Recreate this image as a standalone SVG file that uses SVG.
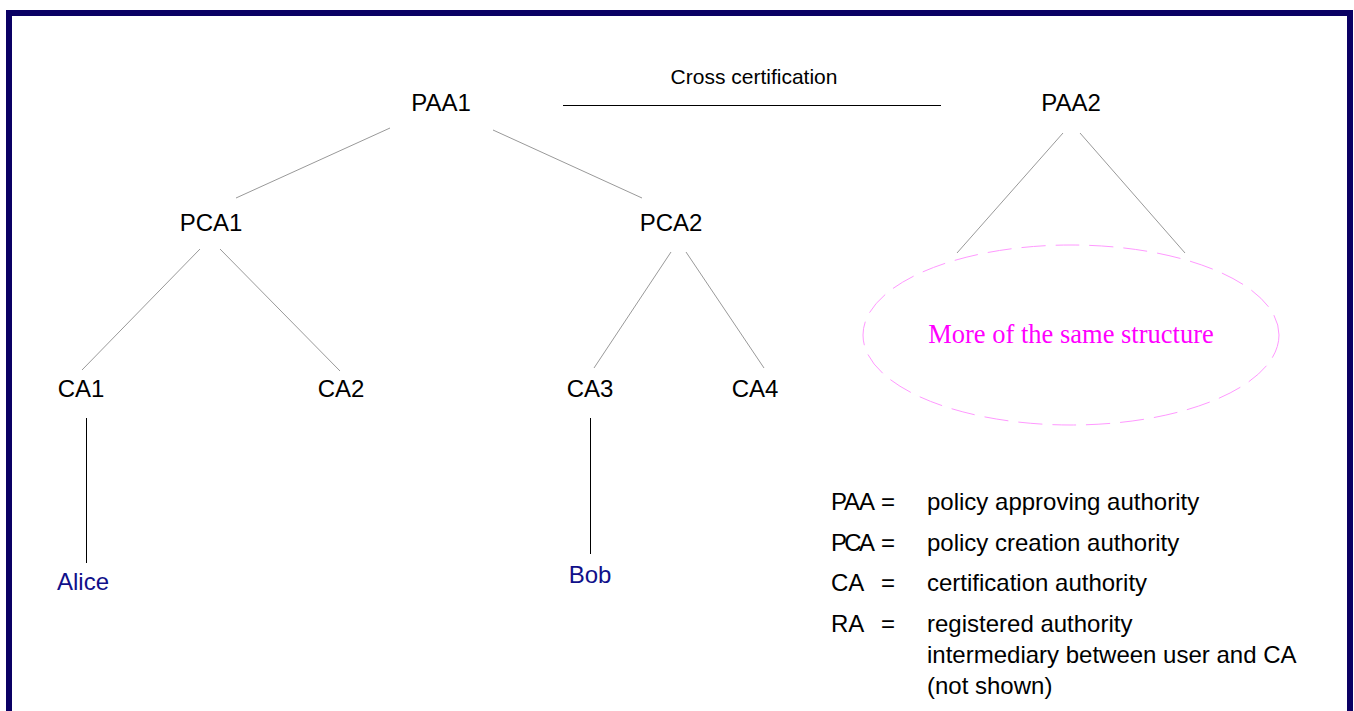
<svg xmlns="http://www.w3.org/2000/svg" width="1354" height="711" viewBox="0 0 1354 711">
<style>
.n{font-family:"Liberation Sans",Arial,sans-serif;font-size:24px;fill:#000}
.u{font-family:"Liberation Sans",Arial,sans-serif;font-size:24px;fill:#10108a}
.l{font-family:"Liberation Sans",Arial,sans-serif;font-size:24px;fill:#000}
.e{stroke:#999;stroke-width:1;fill:none}
.k{stroke:#000;stroke-width:1;fill:none}
</style>
<rect x="0" y="0" width="1354" height="711" fill="#fff"/>
<rect x="9" y="13" width="1341" height="720" fill="none" stroke="#0a0064" stroke-width="6"/>
<g id="connectors">
<line class="k" x1="563" y1="105.5" x2="941" y2="105.5"/>
<line class="e" x1="390" y1="128" x2="236" y2="198"/>
<line class="e" x1="493" y1="130" x2="642" y2="198"/>
<line class="e" x1="200" y1="249" x2="82" y2="370"/>
<line class="e" x1="220" y1="249" x2="340" y2="371"/>
<line class="e" x1="671" y1="252" x2="594" y2="368"/>
<line class="e" x1="686" y1="252" x2="764" y2="368"/>
<line class="e" x1="1063" y1="133" x2="957" y2="253"/>
<line class="e" x1="1080" y1="133" x2="1185" y2="253"/>
<line class="k" x1="86.5" y1="418" x2="86.5" y2="563"/>
<line class="k" x1="590.5" y1="418" x2="590.5" y2="554"/>
</g>
<text x="754" y="84" text-anchor="middle" font-family="Liberation Sans, Arial, sans-serif" font-size="21">Cross certification</text>
<g id="PAA1"><text class="n" x="441" y="111" text-anchor="middle">PAA1</text></g>
<g id="PAA2"><text class="n" x="1071" y="111" text-anchor="middle">PAA2</text></g>
<g id="PCA1"><text class="n" x="211" y="231" text-anchor="middle">PCA1</text></g>
<g id="PCA2"><text class="n" x="671" y="231" text-anchor="middle">PCA2</text></g>
<g id="CA1"><text class="n" x="81" y="397" text-anchor="middle">CA1</text></g>
<g id="CA2"><text class="n" x="341" y="397" text-anchor="middle">CA2</text></g>
<g id="CA3"><text class="n" x="590" y="397" text-anchor="middle">CA3</text></g>
<g id="CA4"><text class="n" x="755" y="397" text-anchor="middle">CA4</text></g>
<g id="Alice"><text class="u" x="83" y="590" text-anchor="middle">Alice</text></g>
<g id="Bob"><text class="u" x="590" y="583" text-anchor="middle">Bob</text></g>
<g id="more">
<ellipse cx="1071" cy="335" rx="208" ry="90" fill="none" stroke="#ff99ff" stroke-width="1" stroke-dasharray="24 10"/>
<text x="1071" y="343" text-anchor="middle" font-family="Liberation Serif, Times New Roman, serif" font-size="26.5" fill="#ff00ff">More of the same structure</text>
</g>
<g id="legend">
<text class="l" x="831" y="510" textLength="44">PAA</text><text class="l" x="881" y="510">=</text><text class="l" x="927" y="510">policy approving authority</text>
<text class="l" x="831" y="551" textLength="44">PCA</text><text class="l" x="881" y="551">=</text><text class="l" x="927" y="551">policy creation authority</text>
<text class="l" x="831" y="591">CA</text><text class="l" x="881" y="591">=</text><text class="l" x="927" y="591">certification authority</text>
<text class="l" x="831" y="632">RA</text><text class="l" x="881" y="632">=</text><text class="l" x="927" y="632">registered authority</text>
<text class="l" x="927" y="663">intermediary between user and CA</text>
<text class="l" x="927" y="694">(not shown)</text>
</g>
</svg>
